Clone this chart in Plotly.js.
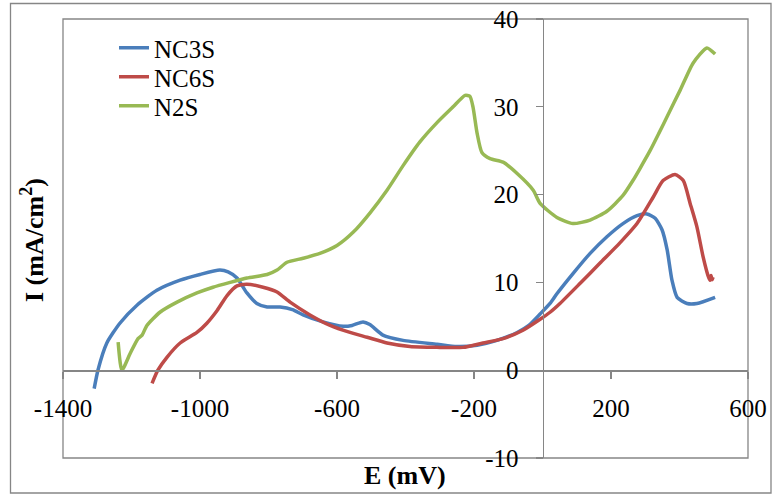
<!DOCTYPE html>
<html>
<head>
<meta charset="utf-8">
<script src="https://cdn.plot.ly/plotly-3.0.1.min.js"></script>
<style>html,body{margin:0;padding:0;background:#fff;}#chart{width:773px;height:499px;}</style>
</head>
<body>
<div id="chart"></div>
<script>
// Series names
const seriesNames = ["NC3S", "NC6S", "N2S"];

// NC3S (blue)
const nc3sE = [-1309,-1298,-1272,-1234,-1184,-1126,-1058,-1000,-942,-918,-892,-863,-834,-804,-766,-730,-699,-641,-582,-556,-524,-504,-466,-407,-308,-250,-191,-133,-74,-40,-7,22,42,89,139,188,235,276,305,329,349,364,378,393,422,451,504];
const nc3sI = [-2.1,0,3.1,5.35,7.4,9.1,10.25,10.9,11.4,11.2,10.5,8.8,7.6,7.2,7.2,6.9,6.3,5.5,5.0,5.1,5.5,5.2,4.0,3.4,2.96,2.7,2.85,3.4,4.3,5.1,6.4,7.6,8.7,11.0,13.3,15.2,16.7,17.6,17.8,17.3,16.0,13.7,10.25,8.3,7.6,7.6,8.3];

// NC6S (red)
const nc6sE = [-1140,-1123,-1096,-1058,-1009,-980,-950,-921,-892,-863,-816,-775,-737,-679,-620,-562,-512,-454,-387,-308,-232,-174,-115,-57,-7,22,51,110,168,226,276,323,352,387,411,431,451,469,483,489,492,495,498];
const nc6sI = [-1.5,0,1.5,3.1,4.3,5.35,6.8,8.5,9.6,9.8,9.45,8.9,7.75,6.3,5.1,4.3,3.75,3.1,2.7,2.6,2.6,3.1,3.6,4.55,5.8,6.6,7.6,9.9,12.2,14.5,16.7,19.7,21.6,22.3,21.6,19.0,16.3,12.9,10.8,10.25,10.8,10.3,10.6];

// N2S (green)
const n2sE = [-1239,-1228,-1204,-1181,-1169,-1155,-1117,-1067,-1009,-962,-912,-863,-804,-775,-746,-699,-650,-600,-553,-504,-454,-407,-358,-308,-261,-226,-212,-203,-191,-177,-153,-115,-74,-27,-7,42,89,139,188,235,264,285,314,340,364,402,440,480,504];
const n2sI = [3.2,0,1.9,3.6,4.0,5.1,6.6,7.75,8.8,9.45,10.0,10.5,10.9,11.4,12.3,12.75,13.3,14.2,15.7,17.9,20.5,23.3,26.0,28.2,30.0,31.3,31.2,30.0,27.0,24.8,24.1,23.7,22.4,20.5,19.0,17.4,16.7,17.1,18.1,19.9,21.6,23.0,25.0,27.0,28.9,31.9,35.0,36.7,36.0];

// Axis ticks
const xTickVals = [-1400, -1000, -600, -200, 200, 600];
const xTickText = ["-1400", "-1000", "-600", "-200", "200", "600"];
const yTickVals = [-10, 0, 10, 20, 30, 40];
const yTickText = ["-10", "0", "10", "20", "30", "40"];

const xTitle = "E (mV)";
const yTitle = "I (mA/cm<sup>2</sup>)";

const colors = ["#4A7EBB", "#BE4B48", "#98B954"];
const font = "Liberation Serif";

function tr(name, x, y, c, lg) {
  return {type: "scatter", mode: "lines", name: name, x: x, y: y, legend: lg,
    line: {color: c, width: 3.5, shape: "spline", smoothing: 0.6}};
}
const data = [
  tr(seriesNames[0], nc3sE, nc3sI, colors[0], "legend"),
  tr(seriesNames[1], nc6sE, nc6sI, colors[1], "legend2"),
  tr(seriesNames[2], n2sE, n2sI, colors[2], "legend3")
];

const W = 773, H = 499, L = 63, R = 25, T = 19, B = 41;
const pw = W - L - R, ph = H - T - B;
const px = v => (v - L) / pw;
const py = v => (H - B - v) / ph;

function lg(yc) {
  return {x: px(114), y: py(yc), xanchor: "left", yanchor: "middle",
    bgcolor: "rgba(0,0,0,0)", font: {family: font, size: 25, color: "#000"}};
}

const layout = {
  width: W, height: H,
  margin: {l: L, r: R, t: T, b: B, pad: 0},
  paper_bgcolor: "#fff", plot_bgcolor: "#fff",
  font: {family: font, color: "#000", size: 24},
  showlegend: true,
  legend: lg(48), legend2: lg(77), legend3: lg(106),
  xaxis: {range: [-1400, 600], tickmode: "array", tickvals: xTickVals, ticktext: xTickText,
    showgrid: false, zeroline: false,
    showline: true, linecolor: "#868686", linewidth: 1.3,
    ticks: "outside", ticklen: 7, tickcolor: "#868686", tickwidth: 1.3,
    anchor: "free", position: 0.2, ticklabelstandoff: 8,
    tickfont: {family: font, size: 25, color: "#000"}},
  yaxis: {range: [-10, 40], tickmode: "array", tickvals: yTickVals, ticktext: yTickText,
    showgrid: false, zeroline: false,
    showline: true, linecolor: "#868686", linewidth: 1.3,
    ticks: "outside", ticklen: 7, tickcolor: "#868686", tickwidth: 1.3,
    anchor: "free", position: 0.7, side: "left", ticklabelstandoff: 12,
    tickfont: {family: font, size: 25, color: "#000"}},
  shapes: [
    {type: "rect", xref: "paper", yref: "paper", x0: 0, x1: 1, y0: 0, y1: 1,
      line: {color: "#868686", width: 1.3}, layer: "below"},
    {type: "rect", xref: "paper", yref: "paper", x0: px(10.5), x1: px(771), y0: py(493), y1: py(3.5),
      line: {color: "#868686", width: 1.3}, layer: "below"}
  ],
  annotations: [
    {text: "<b>" + xTitle + "</b>", xref: "paper", yref: "paper", x: px(405), y: py(475),
      xanchor: "center", yanchor: "middle", showarrow: false, font: {family: font, size: 26, color: "#000"}},
    {text: "<b>" + yTitle + "</b>", xref: "paper", yref: "paper", x: px(32), y: py(240),
      xanchor: "center", yanchor: "middle", textangle: -90, showarrow: false, font: {family: font, size: 26, color: "#000"}}
  ]
};

Plotly.newPlot("chart", data, layout, {staticPlot: true, displayModeBar: false});
</script>
</body>
</html>
